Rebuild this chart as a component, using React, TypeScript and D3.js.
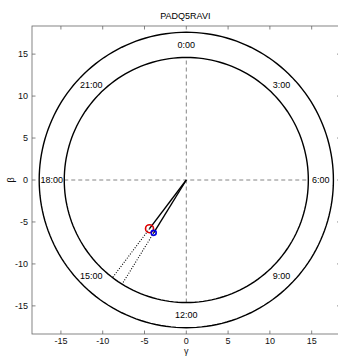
import React from "react";
import * as d3 from "d3";

// Clock-dial plot of the gamma/beta vectors
const title = "PADQ5RAVI";
const xTicks = [-15, -10, -5, 0, 5, 10, 15];
const yTicks = [-15, -10, -5, 0, 5, 10, 15];
const innerRadius = 14.6;
const outerRadius = 17.6;
const hourLabels = ["0:00", "3:00", "6:00", "9:00", "12:00", "15:00", "18:00", "21:00"];
const hourValues = [0, 3, 6, 9, 12, 15, 18, 21];
// vector tips: gamma, beta
const vecGamma = [-4.4, -3.9];
const vecBeta = [-5.8, -6.3];
const vecColors = ["#e00000", "#0000e0"];
const vecMarkerR = [4, 2.5];

const W = 338;
const H = 356;
const left = 32;
const top = 26;
const bottom = 334;
const right = 340.6;

export default function App() {
  const x = d3.scaleLinear().domain([-18.46, 18.46]).range([left, right]);
  const y = d3.scaleLinear().domain([-18.35, 18.35]).range([bottom, top]);
  const font = "'Liberation Sans', Arial, sans-serif";
  const axisColor = "#666";
  const tickLen = 3.5;

  const circlePath = (r: number) => {
    const pts: [number, number][] = d3.range(0, 361, 2).map((a) => {
      const t = (a * Math.PI) / 180;
      return [x(r * Math.cos(t)), y(r * Math.sin(t))];
    });
    return d3.line()(pts) || "";
  };

  const labelR = (innerRadius + outerRadius) / 2;

  return (
    <svg
      width={W}
      height={H}
      style={{ position: "absolute", left: 0, top: 0, background: "#fff" }}
      fontFamily={font}
    >
      <rect x={0} y={0} width={W} height={H} fill="#fff" />
      {/* axes box */}
      <rect
        x={left}
        y={top}
        width={right - left}
        height={bottom - top}
        fill="none"
        stroke={axisColor}
        strokeWidth={0.8}
      />
      {xTicks.map((t) => (
        <g key={"xt" + t}>
          <line x1={x(t)} x2={x(t)} y1={bottom} y2={bottom - tickLen} stroke={axisColor} strokeWidth={0.8} />
          <line x1={x(t)} x2={x(t)} y1={top} y2={top + tickLen} stroke={axisColor} strokeWidth={0.8} />
          <text x={x(t)} y={344} fontSize={9} textAnchor="middle" fill="#111">
            {t}
          </text>
        </g>
      ))}
      {yTicks.map((t) => (
        <g key={"yt" + t}>
          <line x1={left} x2={left + tickLen} y1={y(t)} y2={y(t)} stroke={axisColor} strokeWidth={0.8} />
          <line x1={right} x2={right - tickLen} y1={y(t)} y2={y(t)} stroke={axisColor} strokeWidth={0.8} />
          <text x={28} y={y(t) + 3.2} fontSize={9} textAnchor="end" fill="#111">
            {t}
          </text>
        </g>
      ))}
      <text x={(left + right) / 2 - 1} y={19} fontSize={9} textAnchor="middle" fill="#000">
        {title}
      </text>
      <text x={x(0)} y={354} fontSize={9} textAnchor="middle" fill="#111">
        γ
      </text>
      <text
        transform={`translate(14, ${y(0)}) rotate(-90)`}
        fontSize={9}
        textAnchor="middle"
        fill="#111"
      >
        β
      </text>

      {/* cross hairs */}
      <line x1={x(-innerRadius)} x2={x(innerRadius)} y1={y(0)} y2={y(0)} stroke="#666" strokeWidth={0.8} strokeDasharray="4,3" />
      <line x1={x(0)} x2={x(0)} y1={y(-innerRadius)} y2={y(innerRadius)} stroke="#666" strokeWidth={0.8} strokeDasharray="4,3" />

      {/* dial rings */}
      <path d={circlePath(innerRadius)} fill="none" stroke="#000" strokeWidth={1.4} />
      <path d={circlePath(outerRadius)} fill="none" stroke="#000" strokeWidth={1.4} />

      {hourLabels.map((lab, i) => {
        const ang = Math.PI / 2 - (hourValues[i] / 24) * 2 * Math.PI;
        return (
          <text
            key={lab}
            x={x(labelR * Math.cos(ang))}
            y={y(labelR * Math.sin(ang)) + 3.2}
            fontSize={9}
            textAnchor="middle"
            fill="#000"
          >
            {lab}
          </text>
        );
      })}

      {/* vectors */}
      {vecGamma.map((g, i) => {
        const b = vecBeta[i];
        const r = Math.hypot(g, b);
        const eg = (g / r) * innerRadius;
        const eb = (b / r) * innerRadius;
        return (
          <g key={"v" + i}>
            <line x1={x(g)} y1={y(b)} x2={x(eg)} y2={y(eb)} stroke="#000" strokeWidth={1.1} strokeDasharray="1,1.6" />
            <line x1={x(0)} y1={y(0)} x2={x(g)} y2={y(b)} stroke="#000" strokeWidth={1.4} />
          </g>
        );
      })}
      {vecGamma.map((g, i) => (
        <circle
          key={"m" + i}
          cx={x(g)}
          cy={y(vecBeta[i])}
          r={vecMarkerR[i]}
          fill="none"
          stroke={vecColors[i]}
          strokeWidth={1.6}
        />
      ))}
    </svg>
  );
}
